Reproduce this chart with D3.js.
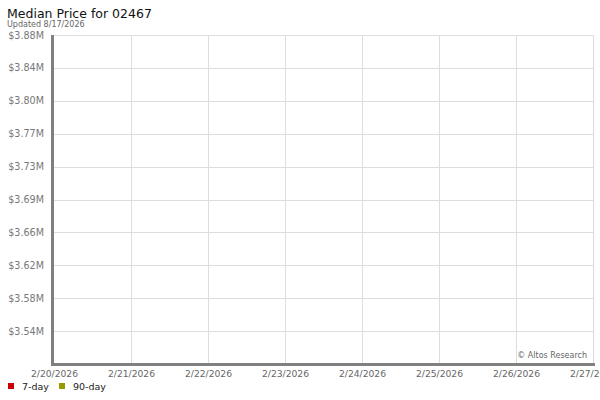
<!DOCTYPE html>
<html>
<head>
<meta charset="utf-8">
<script src="https://cdn.jsdelivr.net/npm/d3@7"></script>
<style>
  body { margin: 0; background: #fff; }
  svg { font-family: "DejaVu Sans", Verdana, sans-serif; display: block; }
</style>
</head>
<body>
<div id="chart"></div>
<script>
const width = 600,
    height = 400;

// data
const chartTitle = 'Median Price for 02467';
const updatedText = 'Updated 8/17/2026';
const xDates = ['2026-02-20', '2026-02-21', '2026-02-22', '2026-02-23',
    '2026-02-24', '2026-02-25', '2026-02-26', '2026-02-27'];
const yTickLabels = ['$3.54M', '$3.58M', '$3.62M', '$3.66M', '$3.69M',
    '$3.73M', '$3.77M', '$3.80M', '$3.84M', '$3.88M'];
const seriesNames = ['7-day', '90-day'];
const seriesColors = ['#cc0000', '#999900'];
// no points in the reference window
const sevenDay = [];
const ninetyDay = [];

const margin = { top: 35, right: 7, bottom: 36, left: 54 };

const svg = d3.select('#chart')
    .append('svg')
    .attr('width', width)
    .attr('height', height);

const parse = d3.timeParse('%Y-%m-%d');
const dates = xDates.map(parse);

const x = d3.scaleTime()
    .domain(d3.extent(dates))
    .range([margin.left, width - margin.right]);

// y by tick index: ticks sit evenly in the picture
const y = d3.scaleLinear()
    .domain([0, yTickLabels.length])
    .range([height - margin.bottom, margin.top]);

// title
svg.append('text')
    .attr('x', 7)
    .attr('y', 18)
    .attr('font-size', '12.5px')
    .attr('fill', '#111')
    .text(chartTitle);

svg.append('text')
    .attr('x', 7)
    .attr('y', 27)
    .attr('font-size', '8px')
    .attr('fill', '#666')
    .text(updatedText);

// grid
const grid = svg.append('g');
grid.selectAll('line.h')
    .data(d3.range(1, yTickLabels.length + 1))
    .enter()
    .append('line')
    .attr('class', 'h')
    .attr('x1', margin.left)
    .attr('x2', width - margin.right)
    .attr('y1', d => Math.round(y(d)) + 0.5)
    .attr('y2', d => Math.round(y(d)) + 0.5)
    .attr('stroke', '#dddddd');

grid.selectAll('line.v')
    .data(dates.slice(1))
    .enter()
    .append('line')
    .attr('class', 'v')
    .attr('x1', d => Math.round(x(d)) + 0.5)
    .attr('x2', d => Math.round(x(d)) + 0.5)
    .attr('y1', margin.top)
    .attr('y2', height - margin.bottom)
    .attr('stroke', '#dddddd');

// y axis
const yAxis = d3.axisLeft(y)
    .tickValues(d3.range(1, yTickLabels.length + 1))
    .tickFormat(i => yTickLabels[i - 1])
    .tickSize(0)
    .tickPadding(10);

const yg = svg.append('g')
    .attr('transform', `translate(${margin.left},0)`)
    .call(yAxis);
yg.select('.domain').remove();
yg.selectAll('text')
    .attr('font-family', '"DejaVu Sans", sans-serif')
    .attr('font-size', '9.6px')
    .attr('fill', '#777');

// x axis
const xAxis = d3.axisBottom(x)
    .tickValues(dates)
    .tickFormat(d3.timeFormat('%-m/%-d/%Y'))
    .tickSize(0)
    .tickPadding(6);

const xg = svg.append('g')
    .attr('transform', `translate(0,${height - margin.bottom})`)
    .call(xAxis);
xg.select('.domain').remove();
xg.selectAll('text')
    .attr('font-family', '"DejaVu Sans", sans-serif')
    .attr('font-size', '9.2px')
    .attr('fill', '#666');

// series lines (empty in this window)
const line = d3.line()
    .x(d => x(parse(d.date)))
    .y(d => y(d.value));
[sevenDay, ninetyDay].forEach(function(s, i) {
    svg.append('path')
        .datum(s)
        .attr('fill', 'none')
        .attr('stroke', seriesColors[i])
        .attr('stroke-width', 2)
        .attr('d', line);
});

// thick axis lines
svg.append('line')
    .attr('x1', margin.left - 1.5)
    .attr('x2', margin.left - 1.5)
    .attr('y1', margin.top)
    .attr('y2', height - margin.bottom + 1.5)
    .attr('stroke', '#808080')
    .attr('stroke-width', 3);
svg.append('line')
    .attr('x1', margin.left - 3)
    .attr('x2', width - margin.right + 2)
    .attr('y1', height - margin.bottom + 0.5)
    .attr('y2', height - margin.bottom + 0.5)
    .attr('stroke', '#808080')
    .attr('stroke-width', 3);

// watermark
svg.append('text')
    .attr('x', width - margin.right - 6)
    .attr('y', height - margin.bottom - 6)
    .attr('text-anchor', 'end')
    .attr('font-size', '8px')
    .attr('fill', '#666')
    .text('\u00a9 Altos Research');

// legend
const legend = svg.append('g')
    .selectAll('g')
    .data(seriesNames)
    .enter()
    .append('g')
    .attr('transform', (d, i) => `translate(${8 + i * 51},0)`);
legend.append('rect')
    .attr('x', 0)
    .attr('y', 383)
    .attr('width', 6)
    .attr('height', 6)
    .attr('fill', (d, i) => seriesColors[i]);
legend.append('text')
    .attr('x', 14)
    .attr('y', 390)
    .attr('font-size', '9.5px')
    .attr('fill', '#222')
    .text(d => d);
</script>
</body>
</html>
